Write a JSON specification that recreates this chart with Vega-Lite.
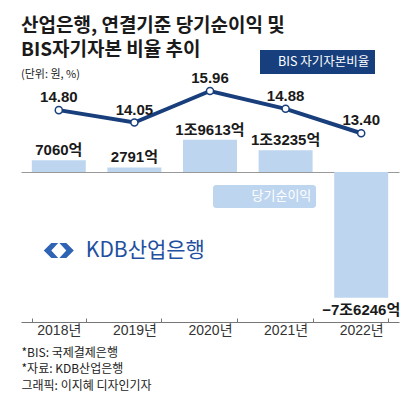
{
  "$schema": "https://vega.github.io/schema/vega-lite/v6.json",
  "width": 378,
  "height": 242,
  "autosize": {"type": "none"},
  "padding": {"left": 21, "top": 80, "right": 21, "bottom": 75},
  "background": "white",
  "config": {"view": {"stroke": null}, "font": "Noto Sans CJK KR"},
  "title": {
    "text": ["산업은행, 연결기준 당기순이익 및", "BIS자기자본 비율 추이"],
    "subtitle": "(단위: 원, %)",
    "anchor": "start",
    "frame": "group",
    "font": "Noto Sans CJK KR",
    "fontSize": 19,
    "fontWeight": "bold",
    "lineHeight": 24,
    "color": "#1a1a1a",
    "subtitleFont": "Noto Sans CJK KR",
    "subtitleFontSize": 11,
    "subtitleColor": "#222222",
    "subtitlePadding": 9,
    "offset": -30
  },
  "data": {
    "values": [
      {"year": "2018년", "profit": 7060, "bis": 14.80, "label": "7060억", "bisLabel": "14.80"},
      {"year": "2019년", "profit": 2791, "bis": 14.05, "label": "2791억", "bisLabel": "14.05"},
      {"year": "2020년", "profit": 19613, "bis": 15.96, "label": "1조9613억", "bisLabel": "15.96"},
      {"year": "2021년", "profit": 13235, "bis": 14.88, "label": "1조3235억", "bisLabel": "14.88"},
      {"year": "2022년", "profit": -76246, "bis": 13.40, "label": "−7조6246억", "bisLabel": "13.40"}
    ]
  },
  "encoding": {
    "x": {
      "field": "year",
      "type": "nominal",
      "sort": null,
      "scale": {"paddingInner": 0.286, "paddingOuter": 0.143},
      "axis": {
        "title": ["*BIS: 국제결제은행", "*자료: KDB산업은행", "그래픽: 이지혜 디자인기자"],
        "titleAnchor": "start",
        "titleAlign": "left",
        "titleBaseline": "top",
        "titleFont": "Noto Sans CJK KR",
        "titleFontSize": 12,
        "titleFontWeight": "normal",
        "titleLineHeight": 16.5,
        "titleColor": "#222222",
        "titlePadding": 10,
        "labelAngle": 0,
        "labelFont": "Liberation Sans, Noto Sans CJK KR",
        "labelFontSize": 14,
        "labelColor": "#333333",
        "labelPadding": 5,
        "tickBand": "extent",
        "tickSize": -4,
        "tickColor": "#777777",
        "domainColor": "#777777"
      }
    }
  },
  "layer": [
    {
      "encoding": {
        "y": {
          "field": "profit",
          "type": "quantitative",
          "scale": {"domain": [-90909, 55758], "nice": false, "zero": false},
          "axis": {"values": [0], "grid": true, "gridColor": "#999999", "gridWidth": 1, "labels": false, "ticks": false, "domain": false, "title": null}
        }
      },
      "layer": [
        {
          "mark": {"type": "bar"},
          "encoding": {
            "color": {
              "datum": "당기순이익",
              "scale": {"range": ["#bdd5ef"]},
              "legend": {
                "orient": "none",
                "legendX": 192,
                "legendY": 105,
                "title": null,
                "fillColor": "#bdd5ef",
                "labelColor": "white",
                "labelFont": "Noto Sans CJK KR",
                "labelFontSize": 13,
                "symbolOpacity": 0,
                "symbolSize": 0,
                "symbolStrokeWidth": 0,
                "labelOffset": 21,
                "padding": 4.5,
                "cornerRadius": 3,
                "labelExpr": "datum.label + '\u2003\u2003'"
              }
            }
          }
        },
        {
          "transform": [{"filter": "datum.profit >= 0"}],
          "mark": {"type": "text", "font": "Liberation Sans, Noto Sans CJK KR", "fontSize": 15, "fontWeight": "bold", "color": "#1a1a1a", "baseline": "alphabetic", "dy": -5},
          "encoding": {"text": {"field": "label"}}
        },
        {
          "transform": [{"filter": "datum.profit < 0"}],
          "mark": {"type": "text", "font": "Liberation Sans, Noto Sans CJK KR", "fontSize": 15, "fontWeight": "bold", "color": "#1a1a1a", "baseline": "top", "dy": 5},
          "encoding": {"text": {"field": "label"}}
        },
        {
          "transform": [{"filter": "datum.year == '2019년'"}],
          "mark": {"type": "text", "font": "Noto Sans CJK KR", "fontSize": 21, "color": "#1f4f9f", "align": "center", "baseline": "middle", "dx": 11},
          "encoding": {"y": {"datum": -47600}, "text": {"value": "KDB산업은행"}}
        },
        {
          "transform": [{"filter": "datum.year == '2018년'"}],
          "mark": {"type": "point", "filled": true, "color": "#2f63b3", "opacity": 1, "size": 900, "shape": "M -0.04 -0.5 L -0.5 -0.5 L -1 0 L -0.5 0.5 L -0.04 0.5 L -0.5 0 Z M 0.04 -0.5 L 0.5 -0.5 L 1 0 L 0.5 0.5 L 0.04 0.5 L 0.5 0 Z"},
          "encoding": {"y": {"datum": -47600}}
        }
      ]
    },
    {
      "encoding": {
        "y": {
          "field": "bis",
          "type": "quantitative",
          "scale": {"domain": [1.96, 16.627], "nice": false, "zero": false},
          "axis": null
        }
      },
      "layer": [
        {
          "mark": {"type": "line", "strokeWidth": 4},
          "encoding": {
            "color": {
              "datum": "BIS 자기자본비율",
              "scale": {"range": ["#183e7c"]},
              "legend": {
                "orient": "none",
                "legendX": 239,
                "legendY": -30,
                "title": null,
                "fillColor": "#173f7d",
                "labelColor": "white",
                "labelFont": "Noto Sans CJK KR",
                "labelFontSize": 12.5,
                "symbolOpacity": 0,
                "symbolSize": 0,
                "symbolStrokeWidth": 0,
                "labelOffset": 0,
                "padding": 5.5
              }
            }
          }
        },
        {
          "mark": {"type": "point", "filled": true, "fill": "white", "stroke": "#183e7c", "strokeWidth": 1.5, "size": 50, "opacity": 1}
        },
        {
          "mark": {"type": "text", "font": "Liberation Sans, Noto Sans CJK KR", "fontSize": 15, "fontWeight": "bold", "color": "#1a1a1a", "baseline": "alphabetic", "dy": -8},
          "encoding": {"text": {"field": "bisLabel"}}
        }
      ]
    }
  ],
  "resolve": {"scale": {"y": "independent", "color": "independent"}}
}
